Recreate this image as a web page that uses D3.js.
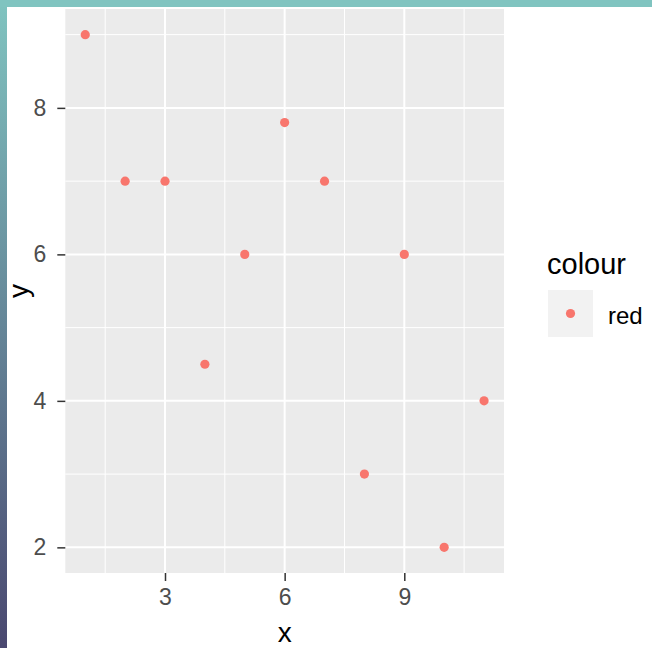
<!DOCTYPE html>
<html>
<head>
<meta charset="utf-8">
<script src="https://cdn.jsdelivr.net/npm/d3@7"></script>
<style>
html, body { margin: 0; padding: 0; background: #fff; }
svg { display: block; }
text { font-family: "Liberation Sans", Arial, sans-serif; }
</style>
</head>
<body>
<script>
// Data
const xValues = [1, 2, 3, 4, 5, 6, 7, 8, 9, 10, 11];
const yValues = [9, 7, 7, 4.5, 6, 7.8, 7, 3, 6, 2, 4];
const xTicks = [3, 6, 9];
const yTicks = [2, 4, 6, 8];
const xMinor = [1.5, 4.5, 7.5, 10.5];
const yMinor = [3, 5, 7, 9];
const legendTitle = "colour";
const legendLabels = ["red"];
const pointColor = "#F8766D";

const W = 652, H = 648;
const svg = d3.select("body").append("svg").attr("width", W).attr("height", H);

const panel = { left: 65.3, right: 504, top: 9, bottom: 573 };

const x = d3.scaleLinear().domain([0.5, 11.5]).range([panel.left, panel.right]);
const y = d3.scaleLinear().domain([1.65, 9.35]).range([panel.bottom, panel.top]);

// panel background
svg.append("rect")
  .attr("x", panel.left).attr("y", panel.top)
  .attr("width", panel.right - panel.left).attr("height", panel.bottom - panel.top)
  .attr("fill", "#EBEBEB");

// minor grid
svg.selectAll(".xminor").data(xMinor).enter().append("line")
  .attr("x1", d => x(d)).attr("x2", d => x(d))
  .attr("y1", panel.top).attr("y2", panel.bottom)
  .attr("stroke", "#fff").attr("stroke-width", 1);
svg.selectAll(".yminor").data(yMinor).enter().append("line")
  .attr("y1", d => y(d)).attr("y2", d => y(d))
  .attr("x1", panel.left).attr("x2", panel.right)
  .attr("stroke", "#fff").attr("stroke-width", 1);
// major grid
svg.selectAll(".xmajor").data(xTicks).enter().append("line")
  .attr("x1", d => x(d)).attr("x2", d => x(d))
  .attr("y1", panel.top).attr("y2", panel.bottom)
  .attr("stroke", "#fff").attr("stroke-width", 2);
svg.selectAll(".ymajor").data(yTicks).enter().append("line")
  .attr("y1", d => y(d)).attr("y2", d => y(d))
  .attr("x1", panel.left).attr("x2", panel.right)
  .attr("stroke", "#fff").attr("stroke-width", 2);

// axes
const xAxis = d3.axisBottom(x).tickValues(xTicks).tickSize(8).tickPadding(8);
const gx = svg.append("g").attr("transform", `translate(0,${panel.bottom})`).call(xAxis);
gx.select(".domain").remove();
gx.selectAll("line").attr("stroke", "#333").attr("stroke-width", 1.5);
gx.selectAll("text").attr("fill", "#4D4D4D").style("font-size", "23px");

const yAxis = d3.axisLeft(y).tickValues(yTicks).tickSize(8).tickPadding(11);
const gy = svg.append("g").attr("transform", `translate(${panel.left},0)`).call(yAxis);
gy.select(".domain").remove();
gy.selectAll("line").attr("stroke", "#333").attr("stroke-width", 1.5);
gy.selectAll("text").attr("fill", "#4D4D4D").style("font-size", "23px");

// points
svg.selectAll(".pt").data(xValues.map((d, i) => [d, yValues[i]])).enter().append("circle")
  .attr("cx", d => x(d[0])).attr("cy", d => y(d[1])).attr("r", 4.6)
  .attr("fill", pointColor);

// axis titles
svg.append("text").attr("x", (panel.left + panel.right) / 2).attr("y", 642)
  .attr("text-anchor", "middle").style("font-size", "28px").attr("fill", "#000").text("x");
svg.append("text").attr("transform", `translate(28,${(panel.top + panel.bottom) / 2}) rotate(-90)`)
  .attr("text-anchor", "middle").style("font-size", "28px").attr("fill", "#000").text("y");

// legend
const lg = svg.append("g");
lg.append("text").attr("x", 547).attr("y", 274).style("font-size", "29px").attr("fill", "#000").text(legendTitle);
legendLabels.forEach((lab, i) => {
  const ky = 290 + i * 47;
  lg.append("rect").attr("x", 548).attr("y", ky).attr("width", 45).attr("height", 47).attr("fill", "#F2F2F2");
  lg.append("circle").attr("cx", 570.5).attr("cy", ky + 23.5).attr("r", 4.6).attr("fill", pointColor);
  lg.append("text").attr("x", 608).attr("y", ky + 34).style("font-size", "24px").attr("fill", "#000").text(lab);
});

// screenshot frame border
const defs = svg.append("defs");
const grad = defs.append("linearGradient").attr("id", "leftg").attr("x1", 0).attr("y1", 0).attr("x2", 0).attr("y2", 1);
grad.append("stop").attr("offset", "0%").attr("stop-color", "#80C4C0");
grad.append("stop").attr("offset", "100%").attr("stop-color", "#4A4870");
svg.append("rect").attr("x", 0).attr("y", 0).attr("width", 7).attr("height", H).attr("fill", "url(#leftg)");
svg.append("rect").attr("x", 0).attr("y", 0).attr("width", W).attr("height", 7).attr("fill", "#80C4C0");
</script>
</body>
</html>
